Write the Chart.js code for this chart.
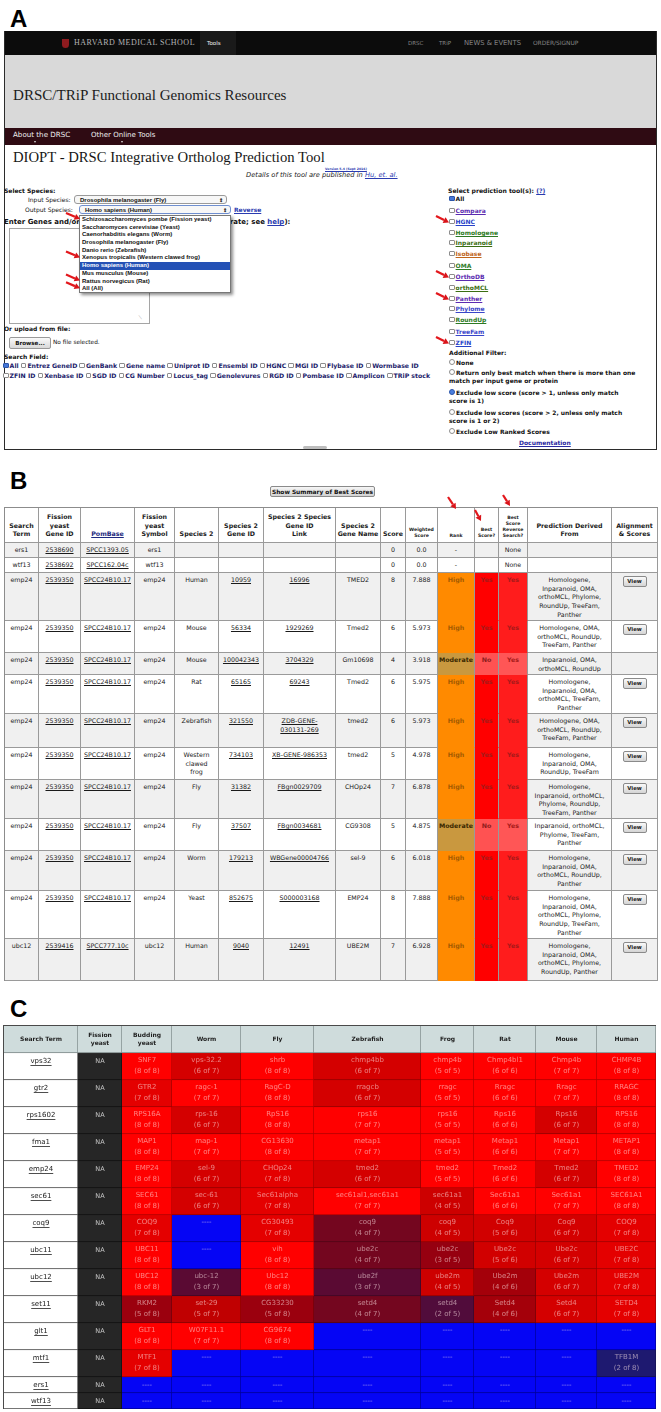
<!DOCTYPE html>
<html>
<head>
<meta charset="utf-8">
<title>DIOPT ortholog summary</title>
<script src="https://cdn.jsdelivr.net/npm/chart.js@4.4.1/dist/chart.umd.min.js"></script>
<style>
  html, body { margin: 0; padding: 0; }
  body { width: 661px; height: 1412px; position: relative; overflow: hidden; background: #fff;
         font-family: "DejaVu Sans", Verdana, sans-serif; color: #111; }
  .a { position: absolute; white-space: nowrap; line-height: 8px; }
  .blk { position: absolute; }
  .panel { position: absolute; font: bold 24px/24px "Liberation Sans", Arial, sans-serif; color: #000; }
  .f6 { font-size: 6px; font-weight: bold; }
  .cb { display: inline-block; width: 3.6px; height: 3.6px; border: 0.7px solid #8d8d8d; background: #fff;
        border-radius: 1px; margin-right: 1px; vertical-align: -0.2px; }
  .cb.on { background: #4677d6; border-color: #2c55a8; }
  .rd { display: inline-block; width: 4px; height: 4px; border: 0.7px solid #8d8d8d; background: #fff;
        border-radius: 50%; margin-right: 1px; vertical-align: -0.2px; }
  .rd.on { background: #4a7fe0; border-color: #2c55a8; }
  .lnk { text-decoration: underline; }
  .sel { position: absolute; height: 9px; border: 0.8px solid #9a9a9a; border-radius: 3px; background: #f7f7f7;
         font: bold 6px/9px "Liberation Sans", Arial, sans-serif; padding-left: 5px; box-sizing: border-box; }
  .sel span { position: absolute; right: 3px; top: 0; font-size: 5px; }
  #drop { position: absolute; left: 79px; top: 215px; width: 152px; height: 78px; background: #fff;
          border: 0.8px solid #777; box-shadow: 2px 2px 3px rgba(0,0,0,0.45); box-sizing: border-box; }
  #drop div { height: 7.7px; line-height: 7.7px; padding-left: 2px; font: bold 6px/7.7px "Liberation Sans", Arial, sans-serif; white-space: nowrap; }
  #drop div.hi { background: #2451b5; color: #fff; }
  #tblB { position: absolute; left: 4px; top: 507px; border-collapse: separate; border-spacing: 0; table-layout: fixed;
          width: 653px; border-top: 1px solid #8c8c8c; border-left: 1px solid #8c8c8c;
          font-size: 6.3px; line-height: 8.7px; color: #1a1a1a; }
  #tblB td, #tblB th { border-right: 1px solid #9a9a9a; border-bottom: 1px solid #9a9a9a; text-align: center;
          white-space: nowrap; overflow: hidden; box-sizing: border-box; }
  #tblB th { font-weight: bold; vertical-align: bottom; padding: 0 1px 3px; background: #fff; }
  #tblB th.sm { font-size: 4.6px; line-height: 6px; }
  #tblB td { vertical-align: top; padding: 3px 1px 0; }
  #tblB u { text-decoration: underline; }
  .view { display: inline-block; width: 22px; height: 9px; border: 0.8px solid #8a8a8a; border-radius: 2px;
          background: linear-gradient(#fafafa, #d4d4d4); font: bold 5.4px/9px "DejaVu Sans"; color: #222; }
  #wrapC { position: absolute; left: 3px; top: 1025px; width: 652px; height: 383px;
           border-left: 1px solid #4a4a4a; border-top: 1px solid #4a4a4a; }
  #arrows { position: absolute; left: 0; top: 0; width: 661px; height: 1412px; pointer-events: none; }
</style>
</head>
<body>

<!-- ============================================ -->
<!-- Panel A: DIOPT search form screenshot        -->
<!-- ============================================ -->
<div class="panel" style="left:10px;top:7px">A</div>
<div class="blk" style="left:4px;top:31px;width:651px;height:417px;border:1px solid #2b2b2b;"></div>
<div class="blk" style="left:5px;top:31px;width:651px;height:24px;background:#0c0c0c;"></div>
<div class="blk" style="left:200px;top:31px;width:36px;height:24px;background:#1a1a1a;"></div>
<div class="blk" style="left:62px;top:39px;width:7px;height:9px;background:#8e1b1f;border-radius:0 0 4px 4px;"></div>
<div class="a" data-w="122" style="left:74px;top:39px;font:8px/8px 'Liberation Serif',serif;letter-spacing:0.5px;color:#b5b5b5;">HARVARD MEDICAL SCHOOL</div>
<div class="a" style="left:207px;top:40px;font:5.5px/6px 'DejaVu Sans';color:#eee;">Tools</div>
<div class="a" style="left:408px;top:40px;font:5.5px/6px 'DejaVu Sans';color:#858585;">DRSC</div>
<div class="a" style="left:439px;top:40px;font:5.5px/6px 'DejaVu Sans';color:#858585;">TRiP</div>
<div class="a" data-w="57" style="left:464px;top:40px;font:5.5px/6px 'DejaVu Sans';color:#858585;">NEWS &amp; EVENTS</div>
<div class="a" data-w="45" style="left:533px;top:40px;font:5.5px/6px 'DejaVu Sans';color:#858585;">ORDER/SIGNUP</div>

<div class="blk" style="left:5px;top:55px;width:651px;height:73px;background:#d9d9d9;"></div>
<div class="a" data-w="274" style="left:13px;top:86px;font:16px/18px 'Liberation Serif',serif;color:#1c1c1c;">DRSC/TRiP Functional Genomics Resources</div>

<div class="blk" style="left:5px;top:128px;width:651px;height:17px;background:#2f0b13;"></div>
<div class="a" data-w="57" style="left:13px;top:131px;font:6.5px/8px 'DejaVu Sans';color:#eee;">About the DRSC</div>
<div class="a" data-w="65" style="left:91px;top:131px;font:6.5px/8px 'DejaVu Sans';color:#eee;">Other Online Tools</div>
<div class="blk" style="left:34px;top:141px;border-left:1.5px solid transparent;border-right:1.5px solid transparent;border-top:2px solid #ddd;"></div>
<div class="blk" style="left:121px;top:141px;border-left:1.5px solid transparent;border-right:1.5px solid transparent;border-top:2px solid #ddd;"></div>

<div class="a" data-w="312" style="left:13px;top:147px;font:18px/20px 'Liberation Serif',serif;color:#161616;">DIOPT - DRSC Integrative Ortholog Prediction Tool</div>
<div class="a lnk" data-w="42" style="left:325px;top:166px;font:bold 4.8px/6px 'DejaVu Sans';color:#2a3bb0;">Version 5.4 (Sept 2016)</div>
<div class="a" data-w="152" style="left:246px;top:172px;font:italic 5.5px/7px 'DejaVu Sans';color:#222;">Details of this tool are published in <span class="lnk" style="color:#2a3bb0">Hu, et. al.</span></div>

<div class="a f6" style="left:4px;top:187px;">Select Species:</div>
<div class="a" style="left:28px;top:196px;font:6px/8px 'DejaVu Sans';">Input Species:</div>
<div class="sel" style="left:74px;top:195px;width:153px;">Drosophila melanogaster (Fly)<span>&#8661;</span></div>
<div class="a" style="left:25px;top:206px;font:6px/8px 'DejaVu Sans';">Output Species:</div>
<div class="sel" style="left:79px;top:205px;width:152px;border-color:#6f8fd0;">Homo sapiens (Human)<span>&#8661;</span></div>
<div class="a lnk f6" style="left:234px;top:206px;color:#2a3bb0;">Reverse</div>
<div class="a f6" data-w="287" style="left:4px;top:218px;">Enter Genes and/or Proteins (one per line or comma separate; see <span class="lnk" style="color:#2a3bb0">help</span>):</div>
<div class="blk" style="left:9px;top:228px;width:139px;height:94px;border:0.8px solid #a5a5a5;background:#fff;"></div>
<div class="a" style="left:142px;top:315px;font:5px/5px 'DejaVu Sans';color:#999;">&#8421;</div>
<div id="drop"></div>
<div class="a f6" style="left:4px;top:325px;">Or upload from file:</div>
<div class="blk" style="left:9px;top:337px;width:40px;height:10px;border:0.8px solid #999;border-radius:2px;background:linear-gradient(#fafafa,#d8d8d8);font:bold 5.6px/10px 'DejaVu Sans';text-align:center;">Browse...</div>
<div class="a" style="left:53px;top:338px;font:5.8px/8px 'DejaVu Sans';">No file selected.</div>
<div class="a f6" style="left:4px;top:353px;">Search Field:</div>
<div id="fieldLine1" class="a f6" data-w="416" style="left:3px;top:362px;color:#1b1b6a;"></div>
<div id="fieldLine2" class="a f6" data-w="427" style="left:3px;top:372px;color:#1b1b6a;"></div>

<div class="a f6" data-w="97" style="left:448px;top:187px;">Select prediction tool(s): <span class="lnk" style="color:#2a3bb0">(?)</span></div>
<div id="toolList"></div>
<div class="a f6" style="left:449px;top:349px;">Additional Filter:</div>
<div id="filterList"></div>
<div class="a f6 lnk" style="left:519px;top:439px;color:#2a2aa0;">Documentation</div>
<div class="blk" style="left:303px;top:446px;width:24px;height:3px;background:#bdbdbd;border-radius:2px;"></div>

<!-- ============================================ -->
<!-- Panel B: result table                        -->
<!-- ============================================ -->
<div class="panel" style="left:10px;top:469px">B</div>
<div class="blk" style="left:270px;top:486px;width:105px;height:11px;border:0.8px solid #8a8a8a;border-radius:2px;background:linear-gradient(#f6f6f6,#d2d2d2);font:bold 5.9px/10px 'DejaVu Sans';text-align:center;color:#111;box-sizing:border-box;white-space:nowrap;">Show Summary of Best Scores</div>
<table id="tblB"></table>

<!-- ============================================ -->
<!-- Panel C: ortholog summary heatmap            -->
<!-- ============================================ -->
<div class="panel" style="left:10px;top:997px">C</div>
<div id="wrapC"><canvas id="chartC" width="652" height="383"></canvas></div>

<svg id="arrows" xmlns="http://www.w3.org/2000/svg"></svg>

<script>
// ============================================
// Panel C data
// ============================================

const searchTerms = ['vps32', 'gtr2', 'rps1602', 'fma1', 'emp24', 'sec61', 'coq9',
                     'ubc11', 'ubc12', 'set11', 'glt1', 'mtf1', 'ers1', 'wtf13'];
const speciesCols = ['Budding yeast', 'Worm', 'Fly', 'Zebrafish', 'Frog', 'Rat', 'Mouse', 'Human'];
const fissionYeast = searchTerms.map(() => 'NA');

// [ortholog symbol, supporting tools, tools available]; null = no ortholog ("----")
const buddingYeast = [['SNF7',8,8], ['GTR2',7,8], ['RPS16A',8,8], ['MAP1',8,8], ['EMP24',8,8], ['SEC61',8,8],
                      ['COQ9',7,8], ['UBC11',8,8], ['UBC12',8,8], ['RKM2',5,8], ['GLT1',8,8], ['MTF1',7,8], null, null];
const worm = [['vps-32.2',6,7], ['ragc-1',7,7], ['rps-16',6,7], ['map-1',7,7], ['sel-9',6,7], ['sec-61',6,7],
              null, null, ['ubc-12',3,7], ['set-29',5,7], ['W07F11.1',7,7], null, null, null];
const fly = [['shrb',8,8], ['RagC-D',8,8], ['RpS16',8,8], ['CG13630',8,8], ['CHOp24',7,8], ['Sec61alpha',7,8],
             ['CG30493',7,8], ['vih',8,8], ['Ubc12',8,8], ['CG33230',5,8], ['CG9674',8,8], null, null, null];
const zebrafish = [['chmp4bb',6,7], ['rragcb',6,7], ['rps16',7,7], ['metap1',7,7], ['tmed2',6,7], ['sec61al1,sec61a1',7,7],
                   ['coq9',4,7], ['ube2c',4,7], ['ube2f',3,7], ['setd4',4,7], null, null, null, null];
const frog = [['chmp4b',5,5], ['rragc',5,5], ['rps16',5,5], ['metap1',5,5], ['tmed2',5,5], ['sec61a1',4,5],
              ['coq9',4,5], ['ube2c',3,5], ['ube2m',4,5], ['setd4',2,5], null, null, null, null];
const rat = [['Chmp4bl1',6,6], ['Rragc',6,6], ['Rps16',6,6], ['Metap1',6,6], ['Tmed2',6,6], ['Sec61a1',6,6],
             ['Coq9',5,6], ['Ube2c',5,6], ['Ube2m',4,6], ['Setd4',4,6], null, null, null, null];
const mouse = [['Chmp4b',7,7], ['Rragc',7,7], ['Rps16',6,7], ['Metap1',7,7], ['Tmed2',6,7], ['Sec61a1',7,7],
               ['Coq9',6,7], ['Ube2c',6,7], ['Ube2m',6,7], ['Setd4',6,7], null, null, null, null];
const human = [['CHMP4B',8,8], ['RRAGC',8,8], ['RPS16',8,8], ['METAP1',8,8], ['TMED2',8,8], ['SEC61A1',8,8],
               ['COQ9',7,8], ['UBE2C',7,8], ['UBE2M',7,8], ['SETD4',7,8], null, ['TFB1M',2,8], null, null];

const speciesData = [buddingYeast, worm, fly, zebrafish, frog, rat, mouse, human];

// ============================================
// Panel C layout (table units = pixels)
// ============================================

const colWidths = [74, 44, 50, 69, 73, 107, 53, 62, 61, 59];
const rowHeights = [27, 27, 27, 27, 27, 27, 27, 27, 27, 27, 27, 27, 27, 16, 16];   // header + 14 rows
const headerLabels = [['Search Term'], ['Fission', 'yeast'], ['Budding', 'yeast'], ['Worm'], ['Fly'],
                      ['Zebrafish'], ['Frog'], ['Rat'], ['Mouse'], ['Human']];

const NONE_COLOR = [5, 5, 245];
// fraction of supporting tools -> cell colour
const COLOR_STOPS = [
    [0.25, [30, 25, 112]],
    [0.42, [88, 10, 52]],
    [0.58, [118, 6, 30]],
    [0.60, [150, 0, 16]],
    [0.67, [165, 0, 10]],
    [0.72, [196, 0, 0]],
    [0.86, [212, 0, 0]],
    [0.875, [228, 0, 0]],
    [1.0, [255, 0, 0]]
];

function scoreColor(f) {
    if (f <= COLOR_STOPS[0][0]) return COLOR_STOPS[0][1];
    for (let i = 1; i < COLOR_STOPS.length; i++) {
        const [f1, c1] = COLOR_STOPS[i];
        const [f0, c0] = COLOR_STOPS[i - 1];
        if (f <= f1) {
            const t = (f - f0) / (f1 - f0);
            return c0.map((v, k) => Math.round(v + (c1[k] - v) * t));
        }
    }
    return COLOR_STOPS[COLOR_STOPS.length - 1][1];
}

const rgb = c => `rgb(${c.map(v => Math.round(v)).join(',')})`;

function cellInfo(r, c) {
    if (r === 0) return { bg: '#cfdcdc', border: '#7b8787', kind: 'head', lines: headerLabels[c] };
    const t = r - 1;
    if (c === 0) return { bg: '#ffffff', border: '#474747', kind: 'term', lines: [searchTerms[t]] };
    if (c === 1) return { bg: '#262626', border: '#101010', kind: 'na', lines: [fissionYeast[t]] };
    const o = speciesData[c - 2][t];
    if (!o) return { bg: rgb(NONE_COLOR), border: 'rgb(0,0,150)', kind: 'orth', lines: ['----'] };
    const col = scoreColor(o[1] / o[2]);
    return { bg: rgb(col), border: rgb(col.map(v => v * 0.7)), kind: 'orth', lines: [o[0], `(${o[1]} of ${o[2]})`] };
}

const colEdges = [0];
colWidths.forEach(w => colEdges.push(colEdges[colEdges.length - 1] + w));
const rowTops = [0];
rowHeights.forEach(h => rowTops.push(rowTops[rowTops.length - 1] + h));

const cellGrid = rowHeights.map((h, r) => colWidths.map((w, c) => cellInfo(r, c)));

const datasets = rowHeights.map((h, r) => ({
    data: colWidths.map((w, c) => ({ x: [colEdges[c], colEdges[c + 1]], y: rowTops[r] + h / 2 })),
    backgroundColor: cellGrid[r].map(cell => cell.bg),
    borderColor: cellGrid[r].map(cell => cell.border),
    borderWidth: { top: 0, left: 0, right: 1, bottom: 1 },
    borderSkipped: false,
    barThickness: h,
    stack: 'table'
}));

// cell texts drawn on top of the bars
const cellText = {
    id: 'cellText',
    afterDatasetsDraw(chart) {
        const ctx = chart.ctx;
        ctx.save();
        ctx.textAlign = 'center';
        ctx.textBaseline = 'middle';
        chart.data.datasets.forEach((ds, r) => {
            chart.getDatasetMeta(r).data.forEach((bar, c) => {
                const cell = cellGrid[r][c];
                const left = Math.min(bar.base, bar.x);
                const right = Math.max(bar.base, bar.x);
                const cx = (left + right) / 2;
                const top = bar.y - bar.height / 2;
                const h = bar.height;
                const tall = h >= 24;
                if (cell.kind === 'head') {
                    ctx.font = 'bold 6px "DejaVu Sans"';
                    ctx.fillStyle = '#1f1f1f';
                    const n = cell.lines.length;
                    cell.lines.forEach((ln, i) => ctx.fillText(ln, cx, bar.y + (i - (n - 1) / 2) * 7.5));
                } else if (cell.kind === 'term') {
                    ctx.font = '7px "DejaVu Sans"';
                    ctx.fillStyle = '#222';
                    const y = tall ? top + 8 : bar.y;
                    ctx.fillText(cell.lines[0], cx, y);
                    const w = ctx.measureText(cell.lines[0]).width;
                    ctx.fillRect(cx - w / 2, y + 4, w, 0.8);
                } else if (cell.kind === 'na') {
                    ctx.font = '6.5px "DejaVu Sans"';
                    ctx.fillStyle = '#c8c8c8';
                    ctx.fillText(cell.lines[0], cx, tall ? top + 8 : bar.y);
                } else {
                    ctx.font = '7px "DejaVu Sans"';
                    ctx.fillStyle = 'rgba(255,232,232,0.55)';
                    if (tall) {
                        cell.lines.forEach((ln, i) => ctx.fillText(ln, cx, top + 7.5 + i * 11));
                    } else {
                        ctx.fillText(cell.lines[0], cx, bar.y);
                    }
                }
            });
        });
        ctx.restore();
    }
};

new Chart(document.getElementById('chartC'), {
    type: 'bar',
    data: { datasets: datasets },
    options: {
        indexAxis: 'y',
        responsive: false,
        animation: false,
        devicePixelRatio: 1,
        events: [],
        layout: { padding: 0 },
        plugins: { legend: { display: false }, tooltip: { enabled: false } },
        scales: {
            x: { type: 'linear', min: 0, max: colEdges[colEdges.length - 1], display: false, stacked: false },
            y: { type: 'linear', min: 0, max: rowTops[rowTops.length - 1], reverse: true, display: false, offset: false }
        }
    },
    plugins: [cellText]
});

// ============================================
// Panel B data
// ============================================

const bHeaders = ['Search<br>Term', 'Fission<br>yeast<br>Gene ID', '<u style="color:#1d2a80">PomBase</u>',
    'Fission<br>yeast<br>Symbol', 'Species 2', 'Species 2<br>Gene ID', 'Species 2 Species<br>Gene ID<br>Link',
    'Species 2<br>Gene Name', 'Score', 'Weighted<br>Score', 'Rank', 'Best<br>Score?',
    'Best<br>Score<br>Reverse<br>Search?', 'Prediction Derived<br>From', 'Alignment<br>&amp; Scores'];
const bSmallHeaders = [9, 10, 11, 12];
const bColWidths = [34, 42, 54, 40, 44, 45, 72, 45, 25, 32, 37, 24, 29, 84, 46];
const bRowHeights = [15, 15, 48, 32, 22, 39, 34, 32, 39, 32, 40, 48, 42];
const bUnderlined = [1, 2, 5, 6];

const E = ['emp24', '2539350', 'SPCC24B10.17', 'emp24'];
const bRows = [
    ['ers1', '2538690', 'SPCC1393.05', 'ers1', '', '', '', '', '0', '0.0', '-', '', 'None', '', ''],
    ['wtf13', '2538692', 'SPCC162.04c', 'wtf13', '', '', '', '', '0', '0.0', '-', '', 'None', '', ''],
    [...E, 'Human', '10959', '16996', 'TMED2', '8', '7.888', 'High', 'Yes', 'Yes',
        'Homologene,|Inparanoid, OMA,|orthoMCL, Phylome,|RoundUp, TreeFam,|Panther', 'View'],
    [...E, 'Mouse', '56334', '1929269', 'Tmed2', '6', '5.973', 'High', 'Yes', 'Yes',
        'Homologene, OMA,|orthoMCL, RoundUp,|TreeFam, Panther', 'View'],
    [...E, 'Mouse', '100042343', '3704329', 'Gm10698', '4', '3.918', 'Moderate', 'No', 'Yes',
        'Inparanoid, OMA,|orthoMCL, RoundUp', ''],
    [...E, 'Rat', '65165', '69243', 'Tmed2', '6', '5.975', 'High', 'Yes', 'Yes',
        'Homologene,|Inparanoid, OMA,|orthoMCL, TreeFam,|Panther', 'View'],
    [...E, 'Zebrafish', '321550', 'ZDB-GENE-|030131-269', 'tmed2', '6', '5.973', 'High', 'Yes', 'Yes',
        'Homologene, OMA,|orthoMCL, RoundUp,|TreeFam, Panther', 'View'],
    [...E, 'Western|clawed|frog', '734103', 'XB-GENE-986353', 'tmed2', '5', '4.978', 'High', 'Yes', 'Yes',
        'Homologene,|Inparanoid, OMA,|RoundUp, TreeFam', 'View'],
    [...E, 'Fly', '31382', 'FBgn0029709', 'CHOp24', '7', '6.878', 'High', 'Yes', 'Yes',
        'Homologene,|Inparanoid, orthoMCL,|Phylome, RoundUp,|TreeFam, Panther', 'View'],
    [...E, 'Fly', '37507', 'FBgn0034681', 'CG9308', '5', '4.875', 'Moderate', 'No', 'Yes',
        'Inparanoid, orthoMCL,|Phylome, TreeFam,|Panther', 'View'],
    [...E, 'Worm', '179213', 'WBGene00004766', 'sel-9', '6', '6.018', 'High', 'Yes', 'Yes',
        'Homologene,|Inparanoid, OMA,|orthoMCL, RoundUp,|Panther', 'View'],
    [...E, 'Yeast', '852675', 'S000003168', 'EMP24', '8', '7.888', 'High', 'Yes', 'Yes',
        'Homologene,|Inparanoid, OMA,|orthoMCL, Phylome,|RoundUp, TreeFam,|Panther', 'View'],
    ['ubc12', '2539416', 'SPCC777.10c', 'ubc12', 'Human', '9040', '12491', 'UBE2M', '7', '6.928', 'High', 'Yes', 'Yes',
        'Homologene,|Inparanoid, OMA,|orthoMCL, Phylome,|RoundUp, Panther', 'View']
];

const RANK_COLORS = { High: ['#ff8a00', '#a35a00'], Moderate: ['#c9983f', '#3a2800'] };

function buildTableB() {
    let html = '<colgroup>' + bColWidths.map(w => `<col style="width:${w}px">`).join('') + '</colgroup>';
    html += '<tr style="height:35px">' + bHeaders.map((h, i) =>
        `<th class="${bSmallHeaders.includes(i) ? 'sm' : ''}">${h}</th>`).join('') + '</tr>';
    bRows.forEach((row, r) => {
        const bg = r % 2 === 0 ? '#f0f0f0' : '#ffffff';
        const rank = row[10];
        html += `<tr style="height:${bRowHeights[r]}px;background:${bg}">`;
        row.forEach((v, c) => {
            let txt = v.split('|').join('<br>');
            let style = '';
            if (bUnderlined.includes(c) && v) txt = `<u>${txt}</u>`;
            if (c === 10 && RANK_COLORS[v]) {
                const [fill, ink] = RANK_COLORS[v];
                style = `background:${fill};color:${ink};font-weight:bold;border-bottom-color:${fill}`;
            }
            if (c === 11 && v) {
                const fill = v === 'Yes' ? '#ff0000' : '#ff5252';
                style = `background:${fill};color:${v === 'Yes' ? '#a81a1a' : '#8e1c1c'};font-weight:bold;border-bottom-color:${fill}`;
            }
            if (c === 12 && v === 'Yes') {
                const fill = rank === 'High' ? '#ff1c1c' : '#ff5656';
                style = `background:${fill};color:#a81a1a;font-weight:bold;border-bottom-color:${fill}`;
            }
            if (c === 14 && v) txt = `<span class="view">${v}</span>`;
            html += `<td style="${style}">${txt}</td>`;
        });
        html += '</tr>';
    });
    document.getElementById('tblB').innerHTML = html;
}

// ============================================
// Panel A form contents
// ============================================

const outputSpecies = ['Schizosaccharomyces pombe (Fission yeast)', 'Saccharomyces cerevisiae (Yeast)',
    'Caenorhabditis elegans (Worm)', 'Drosophila melanogaster (Fly)', 'Danio rerio (Zebrafish)',
    'Xenopus tropicalis (Western clawed frog)', 'Homo sapiens (Human)', 'Mus musculus (Mouse)',
    'Rattus norvegicus (Rat)', 'All (All)'];
const predictionTools = ['Compara', 'HGNC', 'Homologene', 'Inparanoid', 'Isobase', 'OMA', 'OrthoDB',
    'orthoMCL', 'Panther', 'Phylome', 'RoundUp', 'TreeFam', 'ZFIN'];
const toolColors = ['#5b2bb0', '#2641c8', '#2d7a24', '#3b6e12', '#c0651a', '#2d7a24', '#5b2bb0',
    '#3b6e12', '#5b2bb0', '#3a46c9', '#2d7a24', '#3a46c9', '#2641c8'];
const toolRows = [211, 222, 233, 243, 254, 266, 277, 288, 299, 309, 320, 332, 343];
const searchFields1 = ['All', 'Entrez GeneID', 'GenBank', 'Gene name', 'Uniprot ID', 'Ensembl ID', 'HGNC',
    'MGI ID', 'Flybase ID', 'Wormbase ID'];
const searchFields2 = ['ZFIN ID', 'Xenbase ID', 'SGD ID', 'CG Number', 'Locus_tag', 'Genolevures', 'RGD ID',
    'Pombase ID', 'Amplicon', 'TRiP stock'];
const filters = [
    { lines: ['None'], y: 363 },
    { lines: ['Return only best match when there is more than one', 'match per input gene or protein'], y: 373 },
    { lines: ['Exclude low score (score > 1, unless only match', 'score is 1)'], y: 393, on: true },
    { lines: ['Exclude low scores (score > 2, unless only match', 'score is 1 or 2)'], y: 413 },
    { lines: ['Exclude Low Ranked Scores'], y: 432 }
];

function buildPanelA() {
    document.getElementById('drop').innerHTML = outputSpecies.map((s, i) =>
        `<div class="${i === 6 ? 'hi' : ''}">${s}</div>`).join('');

    const field = (f, i) => `<span class="cb${i === 0 && f === 'All' ? ' on' : ''}"></span>${f} `;
    document.getElementById('fieldLine1').innerHTML = searchFields1.map(field).join('');
    document.getElementById('fieldLine2').innerHTML = searchFields2.map((f) => `<span class="cb"></span>${f} `).join('');

    let tools = `<div class="a f6" style="left:449px;top:195px;"><span class="cb on"></span>All</div>`;
    predictionTools.forEach((t, i) => {
        tools += `<div class="a f6" style="left:449px;top:${toolRows[i] - 4}px;"><span class="cb"></span>` +
                 `<span class="lnk" style="color:${toolColors[i]}">${t}</span></div>`;
    });
    document.getElementById('toolList').innerHTML = tools;

    let fl = '';
    filters.forEach(f => {
        fl += `<div class="a f6" style="left:449px;top:${f.y - 4}px;"><span class="rd${f.on ? ' on' : ''}"></span>${f.lines[0]}</div>`;
        if (f.lines[1]) fl += `<div class="a f6" style="left:449px;top:${f.y + 4}px;">${f.lines[1]}</div>`;
    });
    document.getElementById('filterList').innerHTML = fl;
}

// ============================================
// Red annotation arrows
// ============================================

const dropTop = 215, dropItem = 7.7;
const arrowTargets = [
    ...[0, 5, 8, 9].map(i => [66, dropTop + dropItem * i - 2, 80, dropTop + dropItem * i + 4]),
    ...[1, 6, 8, 12].map(i => [436, toolRows[i] - 6, 449, toolRows[i] + 0.5]),
    [448, 497, 456, 509],
    [475, 510, 481, 521],
    [503, 495, 510, 506]
];

function drawArrows() {
    const svg = document.getElementById('arrows');
    let out = '';
    arrowTargets.forEach(([x1, y1, x2, y2]) => {
        const ang = Math.atan2(y2 - y1, x2 - x1);
        const hl = 5.5, hw = 3.2;
        const bx = x2 - hl * Math.cos(ang), by = y2 - hl * Math.sin(ang);
        const px = -Math.sin(ang) * hw, py = Math.cos(ang) * hw;
        out += `<line x1="${x1}" y1="${y1}" x2="${bx}" y2="${by}" stroke="#e3171c" stroke-width="2.2"/>`;
        out += `<polygon points="${x2},${y2} ${bx + px},${by + py} ${bx - px},${by - py}" fill="#d9141a"/>`;
    });
    svg.innerHTML = out;
}

// shrink or grow single-line texts to their width in the screenshot
function fitWidths() {
    document.querySelectorAll('[data-w]').forEach(el => {
        const target = +el.dataset.w;
        for (let k = 0; k < 2; k++) {
            const fs = parseFloat(getComputedStyle(el).fontSize);
            const w = el.scrollWidth;
            if (w > 0 && Math.abs(w - target) > 1) el.style.fontSize = (fs * target / w).toFixed(2) + 'px';
        }
    });
}

buildPanelA();
buildTableB();
drawArrows();
fitWidths();
</script>
</body>
</html>
